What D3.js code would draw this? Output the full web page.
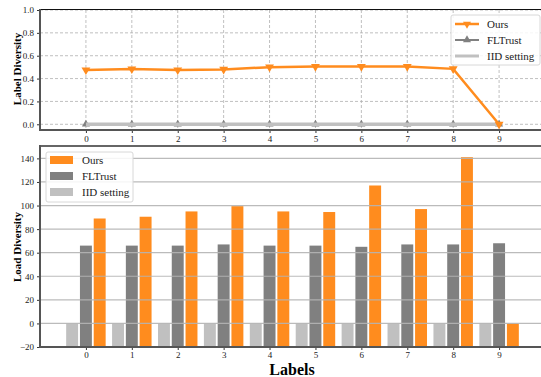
<!DOCTYPE html>
<html>
<head>
<meta charset="utf-8">
<script src="https://cdn.jsdelivr.net/npm/d3@7"></script>
<style>
  body { margin: 0; background: #fff; }
  text { font-family: "Liberation Serif", "Times New Roman", serif; }
</style>
</head>
<body>
<svg id="chart" width="541" height="377"></svg>
<script>
// ---- data ----
var labels = [0, 1, 2, 3, 4, 5, 6, 7, 8, 9];
var labelOurs = [0.475, 0.484, 0.475, 0.48, 0.50, 0.505, 0.505, 0.505, 0.485, 0.0];
var labelFLTrust = [0, 0, 0, 0, 0, 0, 0, 0, 0, 0];
var labelIID = [0, 0, 0, 0, 0, 0, 0, 0, 0, 0];
var loadOurs = [89, 90.5, 95, 99.5, 95, 94.5, 117, 97, 141, 0];
var loadFLTrust = [66, 66, 66, 67, 66, 66, 65, 67, 67, 68];
var loadIID = [0, 0, 0, 0, 0, 0, 0, 0, 0, 0];
var topTicks = [0.0, 0.2, 0.4, 0.6, 0.8, 1.0];
var bottomTicks = [-20, 0, 20, 40, 60, 80, 100, 120, 140];

var orange = "#ff8c1e", grey = "#808080", light = "#c0c0c0";
var serif = "'Liberation Serif', 'Times New Roman', serif";
var svg = d3.select("#chart");

// shared x scale (-1 .. 10 like the picture)
var x = d3.scaleLinear().domain([-1, 10]).range([40, 545]);

// ================= top panel =================
var yTop = d3.scaleLinear().domain([-0.05, 1.0]).range([130, 10]);
var topG = svg.append("g");

// dashed grid
topG.selectAll(".gx").data(labels).enter().append("line")
    .attr("x1", d => x(d)).attr("x2", d => x(d))
    .attr("y1", yTop(1.0)).attr("y2", yTop(-0.05))
    .attr("stroke", "#b0b0b0").attr("stroke-dasharray", "3,2").attr("stroke-width", 0.8);
topG.selectAll(".gy").data(topTicks).enter().append("line")
    .attr("x1", 40).attr("x2", 541)
    .attr("y1", d => yTop(d)).attr("y2", d => yTop(d))
    .attr("stroke", "#b0b0b0").attr("stroke-dasharray", "3,2").attr("stroke-width", 0.8);

var line = d3.line().x((d, i) => x(labels[i])).y(d => yTop(d));

// FLTrust
topG.append("path").datum(labelFLTrust).attr("d", line)
    .attr("fill", "none").attr("stroke", grey).attr("stroke-width", 2);
topG.selectAll(".mf").data(labelFLTrust).enter().append("path")
    .attr("d", d3.symbol().type(d3.symbolTriangle).size(28))
    .attr("transform", (d, i) => "translate(" + x(labels[i]) + "," + yTop(d) + ")")
    .attr("fill", grey);
// IID setting (thick light line, hides FLTrust line)
topG.append("path").datum(labelIID).attr("d", line)
    .attr("fill", "none").attr("stroke", light).attr("stroke-width", 3.5);
// Ours
topG.append("path").datum(labelOurs).attr("d", line)
    .attr("fill", "none").attr("stroke", orange).attr("stroke-width", 2.5);
topG.selectAll(".mo").data(labelOurs).enter().append("path")
    .attr("d", d3.symbol().type(d3.symbolTriangle).size(34))
    .attr("transform", (d, i) => "translate(" + x(labels[i]) + "," + yTop(d) + ") rotate(180)")
    .attr("fill", orange);

// axes
var topXAxis = d3.axisBottom(x).tickValues(labels).tickSize(3).tickPadding(3).tickFormat(d3.format("d"));
topG.append("g").attr("transform", "translate(0,130)").call(topXAxis)
    .call(g => g.select(".domain").remove());
var topYAxis = d3.axisLeft(yTop).tickValues(topTicks).tickSize(3).tickPadding(3).tickFormat(d3.format(".1f"));
topG.append("g").attr("transform", "translate(40,0)").call(topYAxis)
    .call(g => g.select(".domain").remove());
topG.selectAll(".tick text").attr("font-size", 9).attr("font-family", serif).attr("fill", "#222");
topG.selectAll(".tick line").attr("stroke", "#333");

// spines
topG.append("line").attr("x1", 40).attr("x2", 541).attr("y1", 9.5).attr("y2", 9.5).attr("stroke", "#111").attr("stroke-width", 1.2);
topG.append("line").attr("x1", 40).attr("x2", 541).attr("y1", 130).attr("y2", 130).attr("stroke", "#555").attr("stroke-width", 2);
topG.append("line").attr("x1", 40).attr("x2", 40).attr("y1", 9).attr("y2", 131).attr("stroke", "#555").attr("stroke-width", 2);

// legend
var lg = topG.append("g").attr("transform", "translate(451,15)");
lg.append("rect").attr("width", 89).attr("height", 50).attr("rx", 2)
    .attr("fill", "#fff").attr("fill-opacity", 0.85).attr("stroke", "#d8d8d8");
var topLegend = [
  {name: "Ours", color: orange, w: 2.5, sym: "down"},
  {name: "FLTrust", color: grey, w: 2, sym: "up"},
  {name: "IID setting", color: light, w: 3, sym: null}
];
topLegend.forEach(function (d, i) {
  var yy = 9 + i * 16;
  lg.append("line").attr("x1", 4).attr("x2", 28).attr("y1", yy).attr("y2", yy)
      .attr("stroke", d.color).attr("stroke-width", d.w);
  if (d.sym) {
    lg.append("path").attr("d", d3.symbol().type(d3.symbolTriangle).size(28))
        .attr("transform", "translate(16," + yy + ")" + (d.sym == "down" ? " rotate(180)" : ""))
        .attr("fill", d.color);
  }
  lg.append("text").attr("x", 36).attr("y", yy + 4).attr("font-size", 11).attr("fill", "#222").text(d.name);
});

svg.append("text").attr("transform", "translate(21,69) rotate(-90)")
    .attr("text-anchor", "middle").attr("font-size", 11).attr("font-weight", "bold").text("Label Diversity");

// ================= bottom panel =================
var yBot = d3.scaleLinear().domain([-20, 150.5]).range([347, 146]);
var botG = svg.append("g");
var bw = (x(0.26) - x(0));
var series = [
  {name: "IID setting", vals: loadIID, color: light, off: -0.3},
  {name: "FLTrust", vals: loadFLTrust, color: grey, off: 0},
  {name: "Ours", vals: loadOurs, color: orange, off: 0.3}
];
series.forEach(function (s) {
  botG.selectAll(null).data(s.vals).enter().append("rect")
      .attr("x", (d, i) => x(labels[i] + s.off) - bw / 2)
      .attr("width", bw)
      .attr("y", d => yBot(d))
      .attr("height", d => yBot(-20) - yBot(d))
      .attr("fill", s.color);
});

// horizontal grid on top of bars
botG.selectAll(".gy").data(bottomTicks.filter(d => d > -20)).enter().append("line")
    .attr("x1", 40).attr("x2", 541)
    .attr("y1", d => yBot(d)).attr("y2", d => yBot(d))
    .attr("stroke", "#b4b4b4").attr("stroke-width", 1.2).attr("stroke-opacity", 0.9);

var botXAxis = d3.axisBottom(x).tickValues(labels).tickSize(3).tickPadding(2).tickFormat(d3.format("d"));
botG.append("g").attr("transform", "translate(0,347)").call(botXAxis)
    .call(g => g.select(".domain").remove());
var botYAxis = d3.axisLeft(yBot).tickValues(bottomTicks).tickSize(3).tickPadding(3).tickFormat(d => d < 0 ? "\u2212" + Math.abs(d) : d);
botG.append("g").attr("transform", "translate(40,0)").call(botYAxis)
    .call(g => g.select(".domain").remove());
botG.selectAll(".tick text").attr("font-size", 9).attr("font-family", serif).attr("fill", "#222");
botG.selectAll(".tick line").attr("stroke", "#333");

botG.append("line").attr("x1", 40).attr("x2", 541).attr("y1", 146).attr("y2", 146).attr("stroke", "#666").attr("stroke-width", 2);
botG.append("line").attr("x1", 40).attr("x2", 541).attr("y1", 347).attr("y2", 347).attr("stroke", "#555").attr("stroke-width", 2);
botG.append("line").attr("x1", 40).attr("x2", 40).attr("y1", 145).attr("y2", 348).attr("stroke", "#555").attr("stroke-width", 2);

// legend
var bl = botG.append("g").attr("transform", "translate(46,152)");
bl.append("rect").attr("width", 87).attr("height", 50).attr("rx", 2)
    .attr("fill", "#fff").attr("fill-opacity", 0.85).attr("stroke", "#d8d8d8");
[series[2], series[1], series[0]].forEach(function (s, i) {
  var yy = 8 + i * 16;
  bl.append("rect").attr("x", 4).attr("y", yy - 4).attr("width", 23).attr("height", 8).attr("fill", s.color);
  bl.append("text").attr("x", 36).attr("y", yy + 4).attr("font-size", 11).attr("fill", "#222").text(s.name);
});

svg.append("text").attr("transform", "translate(21,247) rotate(-90)")
    .attr("text-anchor", "middle").attr("font-size", 11).attr("font-weight", "bold").text("Load Diversity");
svg.append("text").attr("x", 292).attr("y", 375).attr("text-anchor", "middle")
    .attr("font-size", 16).attr("font-weight", "bold").text("Labels");
</script>
</body>
</html>
